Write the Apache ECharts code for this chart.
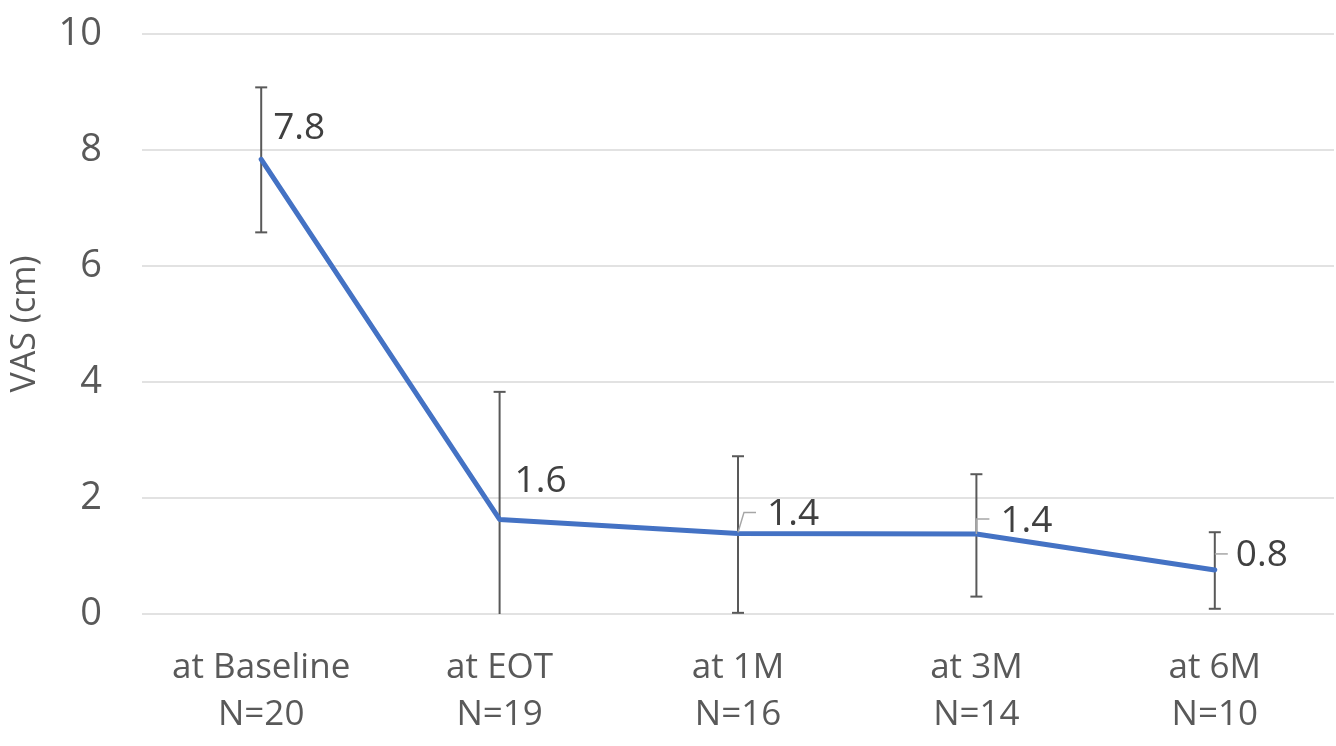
<!DOCTYPE html>
<html>
<head>
<meta charset="utf-8">
<script src="https://cdn.jsdelivr.net/npm/echarts@6/dist/echarts.min.js"></script>
<style>
  html, body { margin: 0; padding: 0; background: #ffffff; }
  #chart { width: 1336px; height: 746px; }
</style>
</head>
<body>
<div id="chart"></div>
<script>
// Time points and sample sizes
const timepoints = ['at Baseline', 'at EOT', 'at 1M', 'at 3M', 'at 6M'];
const sampleSizes = ['N=20', 'N=19', 'N=16', 'N=14', 'N=10'];

// Mean VAS score (cm) at each time point
const vasMean = [7.84, 1.63, 1.39, 1.38, 0.76];

// Error bar ends (cm)
const errLow = [6.58, -0.57, 0.02, 0.30, 0.09];
const errHigh = [9.08, 3.83, 2.72, 2.41, 1.41];

// Value axis ticks
const yMin = 0, yMax = 10, yStep = 2;

// Label placement relative to each point (px) and leader-line paths
const labelPlacement = [[12, -31], [15, -38], [29, -19], [24, -13], [21, -14]];
const leaderPaths = [null, null, [[0, -1], [6, -21], [18, -21]], [[0, 0], [0, -15], [13, -15]], [[0, -16], [13, -16]]];

const FONT = '"Open Sans", "Liberation Sans", sans-serif';
const categories = timepoints.map((t, i) => t + '\n' + sampleSizes[i]);

const chart = echarts.init(document.getElementById('chart'), null, { renderer: 'canvas' });

chart.setOption({
  animation: false,
  backgroundColor: '#ffffff',
  grid: { left: 137, right: 2, top: 34, bottom: 132, containLabel: false },
  xAxis: {
    type: 'category',
    data: categories,
    boundaryGap: true,
    axisLine: { show: false },
    axisTick: { show: false },
    axisLabel: {
      color: '#595959',
      fontFamily: FONT,
      fontSize: 35,
      lineHeight: 47,
      margin: 31,
      interval: 0
    }
  },
  yAxis: {
    type: 'value',
    min: yMin,
    max: yMax,
    interval: yStep,
    name: 'VAS (cm)',
    nameLocation: 'middle',
    nameGap: 100,
    nameTextStyle: { color: '#595959', fontFamily: FONT, fontSize: 34 },
    axisLine: { show: false },
    axisTick: { show: false },
    axisLabel: { color: '#595959', fontFamily: FONT, fontSize: 38, margin: 40 },
    splitLine: { lineStyle: { color: '#D9D9D9', width: 1.5 } }
  },
  series: [
    {
      // vertical error bars with end caps
      type: 'custom',
      z: 2,
      clip: true,
      data: vasMean.map((_, i) => [i, errLow[i], errHigh[i]]),
      encode: { x: 0, y: [1, 2] },
      renderItem: function (params, api) {
        const x = api.value(0);
        const lo = api.coord([x, api.value(1)]);
        const hi = api.coord([x, api.value(2)]);
        const hw = 6;
        const style = { stroke: '#595959', lineWidth: 2 };
        return {
          type: 'group',
          children: [
            { type: 'line', shape: { x1: lo[0], y1: lo[1], x2: hi[0], y2: hi[1] }, style: style },
            { type: 'line', shape: { x1: hi[0] - hw, y1: hi[1], x2: hi[0] + hw, y2: hi[1] }, style: style },
            { type: 'line', shape: { x1: lo[0] - hw, y1: lo[1], x2: lo[0] + hw, y2: lo[1] }, style: style }
          ]
        };
      }
    },
    {
      type: 'line',
      z: 3,
      data: vasMean,
      symbol: 'none',
      lineStyle: { color: '#4472C4', width: 5, cap: 'round', join: 'round' }
    },
    {
      // value labels with leader lines
      type: 'custom',
      z: 4,
      clip: false,
      data: vasMean.map((v, i) => [i, v]),
      encode: { x: 0, y: 1 },
      renderItem: function (params, api) {
        const i = params.dataIndex;
        const p = api.coord([api.value(0), api.value(1)]);
        const off = labelPlacement[i];
        const children = [];
        const path = leaderPaths[i];
        if (path) {
          children.push({
            type: 'polyline',
            shape: { points: path.map(d => [p[0] + d[0], p[1] + d[1]]) },
            style: { stroke: '#A6A6A6', lineWidth: 1.5, fill: null }
          });
        }
        children.push({
          type: 'text',
          x: p[0] + off[0],
          y: p[1] + off[1],
          style: {
            text: api.value(1).toFixed(1),
            fill: '#404040',
            fontFamily: FONT,
            fontSize: 37,
            align: 'left',
            verticalAlign: 'middle'
          }
        });
        return { type: 'group', children: children };
      }
    }
  ]
});
</script>
</body>
</html>
